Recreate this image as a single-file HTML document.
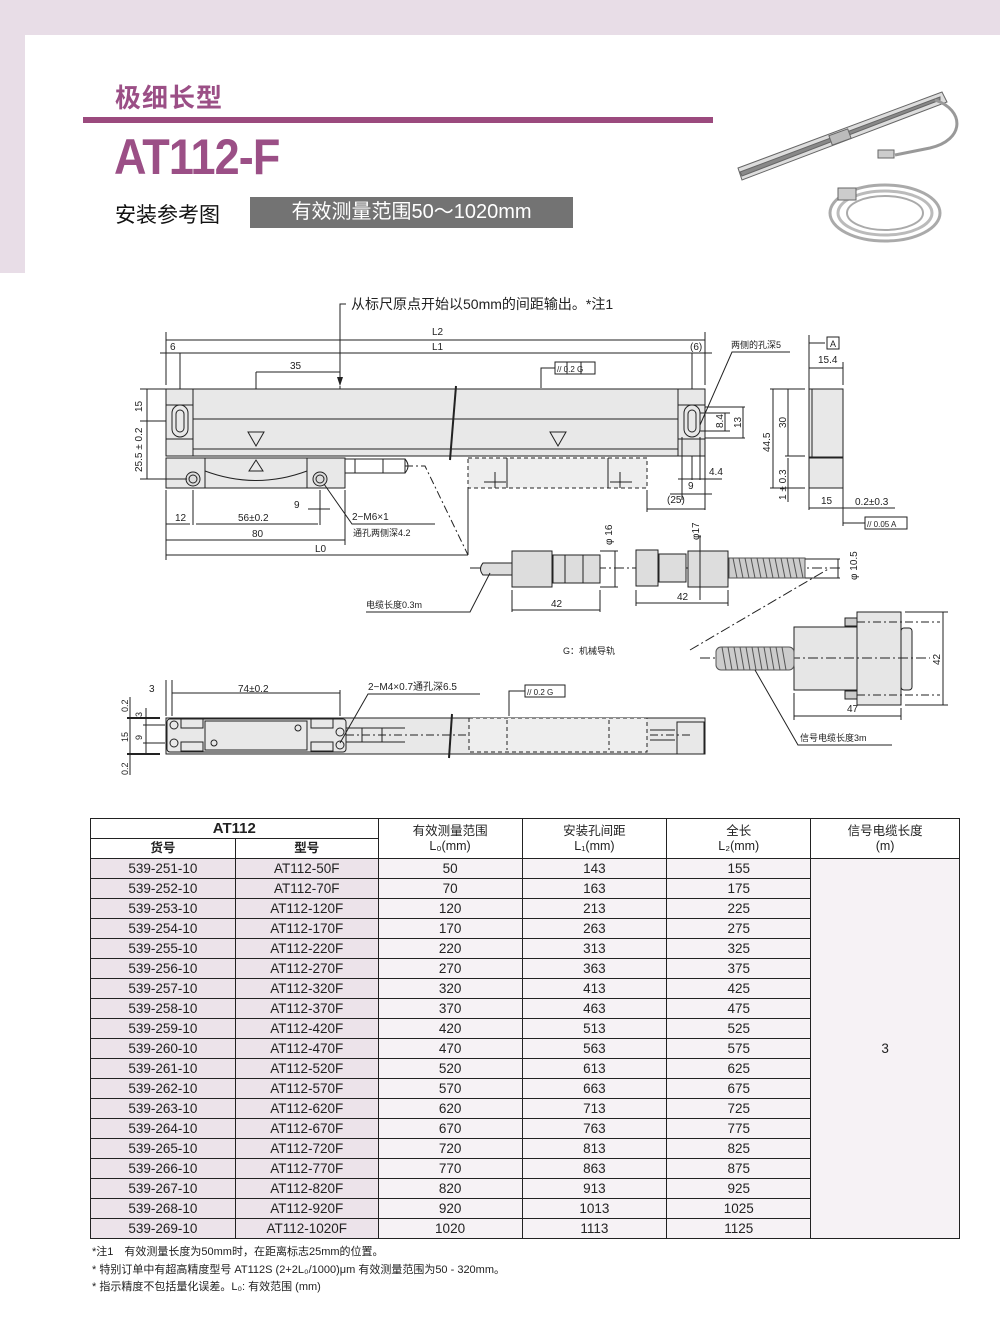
<!DOCTYPE html>
<html><head><meta charset="utf-8">
<style>
*{margin:0;padding:0;box-sizing:border-box}
body{width:1000px;height:1319px;position:relative;background:#fff;font-family:"Liberation Sans","Noto Sans CJK SC",sans-serif;overflow:hidden}
.bgtop{position:absolute;left:0;top:0;width:1000px;height:35px;background:#e8dde7}
.bgleft{position:absolute;left:0;top:0;width:25px;height:273px;background:#e8dde7}
.panel{position:absolute;left:25px;top:35px;width:990px;height:260px;background:#fff;border-top-left-radius:8px}
.t1{position:absolute;left:115px;top:78px;font-size:26px;font-weight:bold;color:#9b4f86;letter-spacing:1px}
.bar{position:absolute;left:83px;top:117px;width:630px;height:6px;background:#9b4a7e}
.t2{position:absolute;left:114px;top:128px;font-size:50px;font-weight:bold;color:#9b4f86;letter-spacing:-1px;transform:scaleX(0.9);transform-origin:left}
.t3{position:absolute;left:115px;top:199px;font-size:21px;color:#111}
.gbox{position:absolute;left:250px;top:197px;width:323px;height:31px;background:#737373;color:#fff;font-size:20px;text-align:center;line-height:31px}
table{position:absolute;left:90px;top:818px;width:870px;border-collapse:collapse;font-family:"Liberation Sans Narrow","Liberation Sans","Noto Sans CJK SC",sans-serif;font-size:13.5px;color:#222}
td,th{border:1px solid #222;text-align:center;height:20px;padding:0;font-weight:normal;line-height:18px}
th{font-size:12.5px;line-height:15px}
.a{background:#ece3ea}
.b{background:#f6f2f5}
.notes{position:absolute;left:92px;top:1244px;font-size:11px;color:#222;line-height:17.5px}
</style></head><body>
<div class="bgtop"></div><div class="bgleft"></div><div class="panel"></div>
<div class="t1">极细长型</div>
<div class="bar"></div>
<div class="t2">AT112-F</div>
<div class="t3">安装参考图</div>
<div class="gbox">有效测量范围50～1020mm</div>

<svg style="position:absolute;left:0;top:0" width="1000" height="800" viewBox="0 0 1000 800" font-family="Liberation Sans, Noto Sans CJK SC, sans-serif" font-size="10" fill="none" stroke="#222" stroke-width="1">
<!-- product image -->
<g stroke="#666">
<polygon points="738,168 942,92 947,102 742,180" fill="#ddd"/>
<polygon points="740,172 940,97 940,100 742,176" fill="#888"/>
<rect x="830" y="132" width="20" height="10" fill="#bbb" transform="rotate(-20 840 137)"/>
<path d="M935,100 C965,110 965,140 930,148 L895,155" stroke="#999" stroke-width="3"/>
<rect x="878" y="150" width="16" height="8" fill="#ccc"/>
<ellipse cx="885" cy="213" rx="55" ry="28" stroke="#aaa" stroke-width="3"/>
<ellipse cx="885" cy="213" rx="47" ry="22" stroke="#bbb" stroke-width="3"/>
<ellipse cx="885" cy="213" rx="38" ry="17" stroke="#aaa" stroke-width="2"/>
<rect x="838" y="188" width="18" height="12" fill="#ccc"/>
</g>

<!-- top note -->
<path d="M346,304 H340 V385"/>
<polygon points="337,377 340,386 343,377" fill="#222" stroke="none"/>
<text x="351" y="309" font-size="14" fill="#222" stroke="none">从标尺原点开始以50mm的间距输出。*注1</text>
<line x1="340" y1="386" x2="340" y2="449"/>
<!-- L2 L1 -->
<line x1="166" y1="332" x2="166" y2="385"/><line x1="705" y1="332" x2="705" y2="385"/>
<line x1="166" y1="340" x2="705" y2="340"/>
<line x1="160" y1="353" x2="712" y2="353"/>
<line x1="180" y1="353" x2="180" y2="435"/><line x1="692" y1="353" x2="692" y2="480"/>
<text x="432" y="335" fill="#222" stroke="none">L2</text>
<text x="432" y="350" fill="#222" stroke="none">L1</text>
<text x="170" y="350" fill="#222" stroke="none">6</text>
<text x="690" y="350" fill="#222" stroke="none">(6)</text>
<!-- 35 -->
<line x1="256" y1="372" x2="340" y2="372"/>
<text x="290" y="369" fill="#222" stroke="none">35</text>
<line x1="256" y1="372" x2="256" y2="445"/>
<!-- tolerance box -->
<path d="M555,368 H541 V388"/>
<rect x="555" y="362" width="40" height="12" fill="#fff"/><line x1="581" y1="362" x2="581" y2="374"/><line x1="567" y1="362" x2="567" y2="374"/>
<text x="557" y="372" font-size="8" fill="#222" stroke="none">//  0.2 G</text>
<!-- main bar -->
<rect x="166" y="389" width="539" height="67" fill="#e8e8e8"/>
<line x1="193" y1="389" x2="193" y2="456"/><line x1="678" y1="389" x2="678" y2="456"/>
<line x1="193" y1="419" x2="678" y2="419"/><line x1="193" y1="449" x2="678" y2="449"/>
<line x1="166" y1="405" x2="193" y2="405"/><line x1="166" y1="439" x2="193" y2="439"/>
<line x1="678" y1="405" x2="705" y2="405"/><line x1="678" y1="439" x2="705" y2="439"/>
<rect x="172" y="405" width="16" height="32" rx="8" fill="#e8e8e8"/><rect x="176" y="410" width="8" height="22" rx="4"/>
<rect x="684" y="405" width="16" height="32" rx="8" fill="#e8e8e8"/><rect x="688" y="410" width="8" height="22" rx="4"/>
<path d="M456,386 L450,460" stroke-width="2"/>
<polygon points="248,432 264,432 256,446" /><polygon points="550,432 566,432 558,446"/>
<!-- mounting block -->
<rect x="166" y="458" width="179" height="30" fill="#e8e8e8"/>
<line x1="205" y1="458" x2="205" y2="488"/><line x1="307" y1="458" x2="307" y2="488"/>
<path d="M205,471 Q256,490 307,471"/>
<polygon points="249,471 263,471 256,460"/>
<circle cx="193" cy="479" r="7" fill="#ddd"/><circle cx="193" cy="479" r="4"/>
<circle cx="320" cy="479" r="7" fill="#ddd"/><circle cx="320" cy="479" r="4"/>
<rect x="345" y="459" width="60" height="14"/><line x1="355" y1="459" x2="355" y2="473"/><line x1="383" y1="459" x2="383" y2="473"/>
<path d="M405,473 Q411,466 405,459"/>
<path d="M405,466 H425 L468,555" stroke-dasharray="8,3,2,3"/>
<!-- dashed rects -->
<rect x="468" y="458" width="179" height="30" fill="#eee" stroke-dasharray="4,3"/>
<line x1="507" y1="458" x2="507" y2="488"/><line x1="608" y1="458" x2="608" y2="488"/>
<path d="M484,482 H506 M495,472 V488 M610,482 H632 M620,472 V488"/>
<line x1="468" y1="488" x2="468" y2="555"/>
<!-- bottom dims -->
<line x1="166" y1="490" x2="166" y2="560"/><line x1="193" y1="490" x2="193" y2="525"/><line x1="320" y1="490" x2="320" y2="525"/><line x1="345" y1="490" x2="345" y2="545"/>
<line x1="166" y1="524" x2="190" y2="524"/><line x1="196" y1="524" x2="318" y2="524"/>
<text x="175" y="521" fill="#222" stroke="none">12</text><text x="238" y="521" fill="#222" stroke="none">56±0.2</text>
<line x1="166" y1="540" x2="345" y2="540"/><text x="252" y="537" fill="#222" stroke="none">80</text>
<line x1="166" y1="555" x2="468" y2="555"/><text x="315" y="552" fill="#222" stroke="none">L0</text>
<line x1="308" y1="509" x2="330" y2="509"/><text x="294" y="508" fill="#222" stroke="none">9</text>
<path d="M324,484 L352,524 H435"/>
<text x="352" y="520" fill="#222" stroke="none">2−M6×1</text>
<text x="353" y="536" font-size="9" fill="#222" stroke="none">通孔两侧深4.2</text>
<!-- left vertical dims -->
<line x1="140" y1="389" x2="166" y2="389"/><line x1="140" y1="421" x2="166" y2="421"/><line x1="140" y1="479" x2="187" y2="479"/>
<line x1="147" y1="389" x2="147" y2="421"/><line x1="147" y1="421" x2="147" y2="479"/>
<text transform="translate(142,412) rotate(-90)" fill="#222" stroke="none">15</text>
<text transform="translate(142,472) rotate(-90)" fill="#222" stroke="none">25.5 ± 0.2</text>
<!-- right end dims -->
<path d="M700,425 L732,352 H790"/>
<text x="731" y="348" font-size="9" fill="#222" stroke="none">两侧的孔深5</text>
<line x1="705" y1="407" x2="745" y2="407"/><line x1="705" y1="438" x2="745" y2="438"/>
<line x1="700" y1="413" x2="730" y2="413"/><line x1="700" y1="431" x2="730" y2="431"/>
<line x1="725" y1="413" x2="725" y2="431"/><line x1="743" y1="407" x2="743" y2="438"/>
<text transform="translate(723,428) rotate(-90)" fill="#222" stroke="none">8.4</text>
<text transform="translate(741,428) rotate(-90)" fill="#222" stroke="none">13</text>
<line x1="682" y1="437" x2="682" y2="500"/><line x1="700" y1="437" x2="700" y2="480"/><line x1="705" y1="456" x2="705" y2="510"/>
<line x1="678" y1="479" x2="722" y2="479"/><text x="709" y="475" fill="#222" stroke="none">4.4</text>
<text x="688" y="489" fill="#222" stroke="none">9</text>
<line x1="670" y1="494" x2="712" y2="494"/><text x="667" y="503" fill="#222" stroke="none">(25)</text>
<line x1="647" y1="490" x2="647" y2="512"/><line x1="647" y1="509" x2="705" y2="509"/>
<!-- side view -->
<rect x="809" y="389" width="34" height="68" fill="#e8e8e8"/><line x1="812" y1="389" x2="812" y2="457"/>
<rect x="809" y="458" width="34" height="30" fill="#e8e8e8"/>
<line x1="809" y1="335" x2="809" y2="510"/><line x1="843" y1="362" x2="843" y2="385"/><line x1="843" y1="488" x2="843" y2="526"/>
<path d="M809,343 H825"/><rect x="827" y="337" width="12" height="12" fill="#fff"/><text x="830" y="347" font-size="9" fill="#222" stroke="none">A</text>
<line x1="809" y1="368" x2="843" y2="368"/><text x="818" y="363" fill="#222" stroke="none">15.4</text>
<line x1="770" y1="389" x2="805" y2="389"/><line x1="770" y1="488" x2="805" y2="488"/><line x1="785" y1="456" x2="805" y2="456"/>
<line x1="773" y1="389" x2="773" y2="488"/><line x1="788" y1="389" x2="788" y2="456"/><line x1="788" y1="458" x2="788" y2="502"/>
<text transform="translate(770,452) rotate(-90)" fill="#222" stroke="none">44.5</text>
<text transform="translate(786,428) rotate(-90)" fill="#222" stroke="none">30</text>
<text transform="translate(786,500) rotate(-90)" fill="#222" stroke="none">1 ± 0.3</text>
<line x1="809" y1="508" x2="843" y2="508"/><text x="821" y="504" fill="#222" stroke="none">15</text>
<line x1="843" y1="508" x2="895" y2="508"/><text x="855" y="505" fill="#222" stroke="none">0.2±0.3</text>
<path d="M843,523 H865"/><rect x="865" y="517" width="42" height="12" fill="#fff"/><text x="867" y="527" font-size="8" fill="#222" stroke="none">// 0.05  A</text>
<!-- connectors -->
<line x1="470" y1="568" x2="840" y2="568" stroke-dasharray="10,3,2,3"/>
<path d="M512,563 H483 Q478,569 483,575 H512" fill="#ddd"/>
<rect x="512" y="551" width="40" height="36" fill="#ddd"/>
<rect x="553" y="555" width="47" height="28" fill="#ddd"/><line x1="565" y1="555" x2="565" y2="583"/><line x1="583" y1="555" x2="583" y2="583"/>
<line x1="600" y1="551" x2="618" y2="551"/><line x1="600" y1="587" x2="618" y2="587"/><line x1="615" y1="551" x2="615" y2="587"/>
<text transform="translate(612,545) rotate(-90)" fill="#222" stroke="none">φ 16</text>
<line x1="512" y1="590" x2="512" y2="612"/><line x1="600" y1="590" x2="600" y2="612"/><line x1="512" y1="610" x2="600" y2="610"/>
<text x="551" y="607" fill="#222" stroke="none">42</text>
<rect x="636" y="550" width="22" height="36" fill="#ddd"/><rect x="659" y="554" width="27" height="28" fill="#ddd"/>
<rect x="688" y="551" width="40" height="36" fill="#ddd"/>
<line x1="700" y1="535" x2="700" y2="600"/>
<text transform="translate(699,540) rotate(-90)" fill="#222" stroke="none">φ17</text>
<g stroke="#555">
<rect x="729" y="558" width="76" height="20" fill="#ccc"/>
<path d="M733,558 l4,20 M739,558 l4,20 M745,558 l4,20 M751,558 l4,20 M757,558 l4,20 M763,558 l4,20 M769,558 l4,20 M775,558 l4,20 M781,558 l4,20 M787,558 l4,20 M793,558 l4,20 M799,558 l4,20"/>
</g>
<line x1="805" y1="559" x2="840" y2="559"/><line x1="805" y1="578" x2="840" y2="578"/><line x1="838" y1="559" x2="838" y2="578"/>
<text transform="translate(857,580) rotate(-90)" fill="#222" stroke="none">φ 10.5</text>
<line x1="636" y1="590" x2="636" y2="606"/><line x1="728" y1="590" x2="728" y2="606"/><line x1="636" y1="603" x2="728" y2="603"/>
<text x="677" y="600" fill="#222" stroke="none">42</text>
<path d="M490,573 L470,612 H366"/>
<text x="366" y="608" font-size="9" fill="#222" stroke="none">电缆长度0.3m</text>
<line x1="690" y1="650" x2="830" y2="568" stroke-dasharray="10,3,2,3"/>
<text x="563" y="654" font-size="9" fill="#222" stroke="none">G：机械导轨</text>
<!-- large connector -->
<rect x="794" y="627" width="107" height="63" fill="#e6e6e6"/>
<rect x="857" y="612" width="44" height="93" fill="#e6e6e6"/>
<rect x="901" y="628" width="11" height="62" fill="#e6e6e6" rx="3"/>
<rect x="845" y="618" width="12" height="8" fill="#ccc"/><rect x="845" y="691" width="12" height="8" fill="#ccc"/>
<line x1="857" y1="622" x2="940" y2="622" stroke-dasharray="8,3,2,3"/><line x1="857" y1="695" x2="940" y2="695" stroke-dasharray="8,3,2,3"/>
<line x1="700" y1="658" x2="930" y2="658" stroke-dasharray="10,3,2,3"/>
<g stroke="#555"><rect x="716" y="647" width="78" height="23" fill="#ccc" rx="5"/>
<path d="M722,647 l4,23 M728,647 l4,23 M734,647 l4,23 M740,647 l4,23 M746,647 l4,23 M752,647 l4,23 M758,647 l4,23 M764,647 l4,23 M770,647 l4,23 M776,647 l4,23 M782,647 l4,23"/></g>
<line x1="905" y1="612" x2="948" y2="612"/><line x1="905" y1="705" x2="948" y2="705"/><line x1="943" y1="612" x2="943" y2="705"/>
<text transform="translate(940,665) rotate(-90)" fill="#222" stroke="none">42</text>
<line x1="794" y1="693" x2="794" y2="720"/><line x1="901" y1="708" x2="901" y2="720"/><line x1="794" y1="716" x2="901" y2="716"/>
<text x="847" y="712" fill="#222" stroke="none">47</text>
<path d="M755,670 L798,745 H892"/>
<text x="800" y="741" font-size="9" fill="#222" stroke="none">信号电缆长度3m</text>
<!-- bottom view -->
<rect x="166" y="718" width="539" height="36" fill="#e8e8e8"/>
<rect x="167" y="719" width="179" height="33" rx="3" fill="#e8e8e8"/>
<rect x="205" y="721" width="102" height="29"/>
<rect x="181" y="719" width="22" height="9"/><rect x="181" y="742" width="22" height="9"/>
<rect x="311" y="719" width="22" height="9"/><rect x="311" y="742" width="22" height="9"/>
<circle cx="174" cy="725" r="4"/><circle cx="174" cy="743" r="4"/><circle cx="340" cy="732" r="4"/><circle cx="340" cy="745" r="4"/>
<circle cx="214" cy="743" r="3"/><circle cx="298" cy="728" r="3"/>
<rect x="346" y="728" width="36" height="14"/><line x1="362" y1="728" x2="362" y2="742"/>
<line x1="382" y1="728" x2="405" y2="728"/><line x1="382" y1="742" x2="405" y2="742"/>
<line x1="346" y1="735" x2="690" y2="735" stroke-dasharray="8,3,2,3"/>
<path d="M452,714 L449,758" stroke-width="2"/>
<rect x="469" y="718" width="178" height="34" fill="#eee" stroke-dasharray="4,3"/>
<line x1="507" y1="720" x2="507" y2="750" stroke-dasharray="4,3"/><line x1="609" y1="720" x2="609" y2="750" stroke-dasharray="4,3"/>
<line x1="650" y1="730" x2="675" y2="730"/><line x1="650" y1="740" x2="675" y2="740"/>
<rect x="677" y="722" width="27" height="32"/>
<path d="M525,691 H509 V716"/><rect x="525" y="685" width="40" height="12" fill="#fff"/><text x="527" y="695" font-size="8" fill="#222" stroke="none">// 0.2 G</text>
<line x1="166" y1="680" x2="166" y2="716"/><line x1="172" y1="680" x2="172" y2="716"/><line x1="340" y1="690" x2="340" y2="716"/>
<line x1="172" y1="693" x2="340" y2="693"/>
<text x="149" y="692" fill="#222" stroke="none">3</text><text x="238" y="692" fill="#222" stroke="none">74±0.2</text>
<path d="M340,743 L368,694 H480"/>
<text x="368" y="690" fill="#222" stroke="none">2−M4×0.7通孔深6.5</text>
<line x1="127" y1="718" x2="160" y2="718" stroke-width="2"/><line x1="127" y1="754" x2="160" y2="754" stroke-width="2"/>
<line x1="143" y1="725" x2="165" y2="725"/><line x1="143" y1="743" x2="165" y2="743"/>
<line x1="130" y1="697" x2="130" y2="775"/><line x1="146" y1="708" x2="146" y2="755"/>
<text transform="translate(128,712) rotate(-90)" font-size="9" fill="#222" stroke="none">0.2</text>
<text transform="translate(142,717) rotate(-90)" font-size="9" fill="#222" stroke="none">3</text>
<text transform="translate(142,740) rotate(-90)" font-size="9" fill="#222" stroke="none">9</text>
<text transform="translate(128,742) rotate(-90)" font-size="9" fill="#222" stroke="none">15</text>
<text transform="translate(128,775) rotate(-90)" font-size="9" fill="#222" stroke="none">0.2</text>
</svg>

<table>
<tr><th colspan="2" style="font-size:15px;font-weight:bold;height:20px">AT112</th><th rowspan="2" style="width:144px">有效测量范围<br>L₀(mm)</th><th rowspan="2" style="width:145px">安装孔间距<br>L₁(mm)</th><th rowspan="2" style="width:144px">全长<br>L₂(mm)</th><th rowspan="2" style="width:149px">信号电缆长度<br>(m)</th></tr>
<tr><th style="width:145px;font-weight:bold;height:20px">货号</th><th style="width:143px;font-weight:bold">型号</th></tr>
<tr><td class="a">539-251-10</td><td class="a">AT112-50F</td><td class="b">50</td><td class="b">143</td><td class="b">155</td><td class="b" rowspan="19">3</td></tr>
<tr><td class="a">539-252-10</td><td class="a">AT112-70F</td><td class="b">70</td><td class="b">163</td><td class="b">175</td></tr>
<tr><td class="a">539-253-10</td><td class="a">AT112-120F</td><td class="b">120</td><td class="b">213</td><td class="b">225</td></tr>
<tr><td class="a">539-254-10</td><td class="a">AT112-170F</td><td class="b">170</td><td class="b">263</td><td class="b">275</td></tr>
<tr><td class="a">539-255-10</td><td class="a">AT112-220F</td><td class="b">220</td><td class="b">313</td><td class="b">325</td></tr>
<tr><td class="a">539-256-10</td><td class="a">AT112-270F</td><td class="b">270</td><td class="b">363</td><td class="b">375</td></tr>
<tr><td class="a">539-257-10</td><td class="a">AT112-320F</td><td class="b">320</td><td class="b">413</td><td class="b">425</td></tr>
<tr><td class="a">539-258-10</td><td class="a">AT112-370F</td><td class="b">370</td><td class="b">463</td><td class="b">475</td></tr>
<tr><td class="a">539-259-10</td><td class="a">AT112-420F</td><td class="b">420</td><td class="b">513</td><td class="b">525</td></tr>
<tr><td class="a">539-260-10</td><td class="a">AT112-470F</td><td class="b">470</td><td class="b">563</td><td class="b">575</td></tr>
<tr><td class="a">539-261-10</td><td class="a">AT112-520F</td><td class="b">520</td><td class="b">613</td><td class="b">625</td></tr>
<tr><td class="a">539-262-10</td><td class="a">AT112-570F</td><td class="b">570</td><td class="b">663</td><td class="b">675</td></tr>
<tr><td class="a">539-263-10</td><td class="a">AT112-620F</td><td class="b">620</td><td class="b">713</td><td class="b">725</td></tr>
<tr><td class="a">539-264-10</td><td class="a">AT112-670F</td><td class="b">670</td><td class="b">763</td><td class="b">775</td></tr>
<tr><td class="a">539-265-10</td><td class="a">AT112-720F</td><td class="b">720</td><td class="b">813</td><td class="b">825</td></tr>
<tr><td class="a">539-266-10</td><td class="a">AT112-770F</td><td class="b">770</td><td class="b">863</td><td class="b">875</td></tr>
<tr><td class="a">539-267-10</td><td class="a">AT112-820F</td><td class="b">820</td><td class="b">913</td><td class="b">925</td></tr>
<tr><td class="a">539-268-10</td><td class="a">AT112-920F</td><td class="b">920</td><td class="b">1013</td><td class="b">1025</td></tr>
<tr><td class="a">539-269-10</td><td class="a">AT112-1020F</td><td class="b">1020</td><td class="b">1113</td><td class="b">1125</td></tr>
</table>
<div class="notes">*注1　有效测量长度为50mm时，在距离标志25mm的位置。<br>* 特别订单中有超高精度型号 AT112S (2+2L₀/1000)μm 有效测量范围为50 - 320mm。<br>* 指示精度不包括量化误差。L₀: 有效范围 (mm)</div>
</body></html>
